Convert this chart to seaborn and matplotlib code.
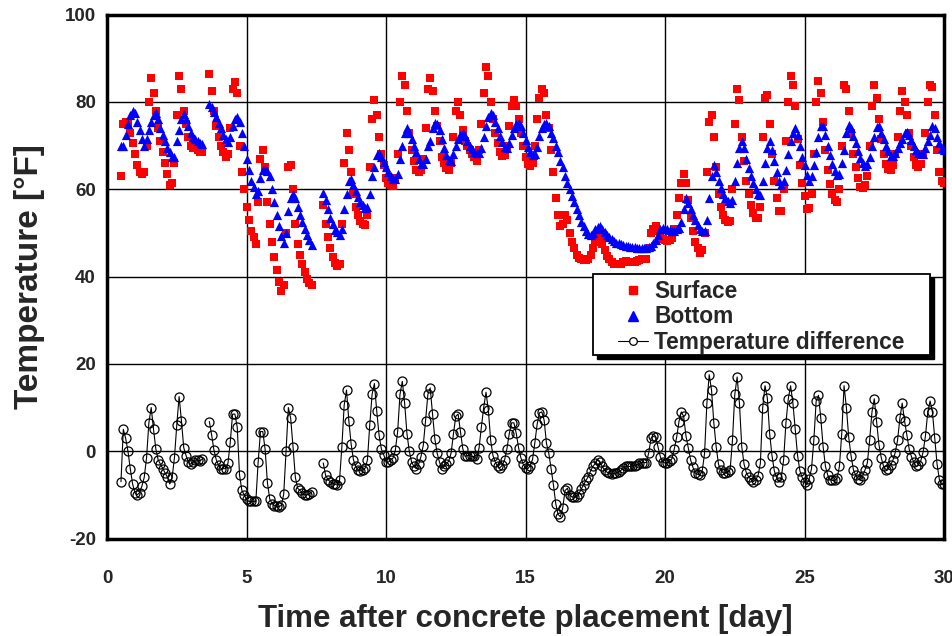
import numpy as np
import pandas as pd
import matplotlib
matplotlib.use("Agg")
import matplotlib.pyplot as plt
from matplotlib.lines import Line2D
from matplotlib.patches import Rectangle
import seaborn as sns

nan = np.nan

# sampling: every 2 hours from day 0
start_day = 0.0
step_day = 1.0 / 12.0

# Surface temperature [°F], one row per day (00h, 02h, ... 22h)
surface = [
    nan, nan, nan, nan, nan, nan, 63, 75, 75.5, 75, 73, 70.5,          # day 0
    68, 65.5, 64, 63.5, 64, 70, 80, 85.5, 82, 78, 74, 71,               # day 1
    68.5, 66, 63.5, 61, 61.5, 66, 77, 86, 83, 78, 75, 72,               # day 2
    70, 69.5, 69.5, 69, 68.5, 68.5, nan, nan, 86.3, 82.5, 78, 74.5,     # day 3
    72, 70, 68.5, 67.5, 68, 74, 83, 84.5, 82, 70, 64, 60,               # day 4
    56, 53, 50.5, 49, 47.5, 57, 67, 69, 65, 57, 52, 48,                 # day 5
    44.5, 41.5, 38.8, 36.8, 38, 50, 65, 65.5, 60, 52, 47.5, 45,         # day 6
    43, 41, 39.5, 38.5, 38, nan, nan, nan, nan, 56.4, 52, 49,           # day 7
    46.5, 44.5, 43.2, 42.5, 42.8, 52, 66, 73, 69, 64, 59, 56,           # day 8
    54, 52.7, 52, 51.8, 54, 65, 76, 80.5, 77, 72, 68, 65.5,             # day 9
    62.5, 61.5, 61, 60.8, 62.5, 68, 80, 86, 84, 78, 73, 69,             # day 10
    66.5, 64.5, 64, 64.5, 67, 74, 83, 85.5, 82.5, 78, 74.5, 71,         # day 11
    67.5, 66, 64.8, 64.5, 66, 72, 78, 80, 77, 73.5, 71, 70,             # day 12
    69, 68, 67.4, 66.5, 69, 75, 82, 88, 86, 80, 76, 73,                 # day 13
    70.5, 68.5, 67.6, 67.8, 70, 74.5, 79, 80.5, 79, 76, 73, 70,         # day 14
    67.5, 65.8, 65.3, 66, 70, 76, 81, 83, 82, 77, 74, 69,               # day 15
    64, 58, 54, 51.5, 52, 54, 53, 50, 48, 46.5, 45, 44.3,               # day 16
    44, 43.8, 43.8, 44, 45, 46.5, 48, 49.3, 49, 47.5, 46, 44.8,         # day 17
    44, 43.3, 43, 42.8, 42.8, 43, 43.3, 43.5, 43.4, 43.3, 43.3, 43.4,   # day 18
    43.5, 43.8, 44, 44, 44, 46.5, 50, 51, 51.5, 50.5, 49.5, 48.7,       # day 19
    48.3, 48.2, 48.3, 48.8, 51, 54, 58, 61.5, 63.5, 61.5, 57.5, 53.5,   # day 20
    50.5, 48, 46.5, 45.5, 46, 50, 64, 75.5, 77, 72, 65, 59,             # day 21
    56, 54, 53, 52.5, 52.7, 60, 75, 83, 80.5, 72, 66.5, 62,             # day 22
    59, 56.5, 54.5, 53.5, 53.4, 56, 72, 81, 81.7, 75, 68, 62,           # day 23
    58, 55, 55, 60, 71, 80, 86, 84, 79, 71.5, 65.5, 61.5,               # day 24
    58.5, 55.5, 55.7, 59, 68, 80, 84.8, 82, 75.5, 69, 64.5, 61.3,       # day 25
    59, 57.5, 57, 60, 70, 84, 83, 78, 73, 68, 65, 62.5,                 # day 26
    60.5, 60.3, 61, 63, 70, 79, 84, 81, 76, 71.5, 68, 65.8,             # day 27
    64.7, 64.5, 65.5, 68, 72, 78, 82.5, 80, 77, 73, 70, 67.5,           # day 28
    65.5, 65.2, 65.8, 68, 73, 80, 84, 83.5, 77, 69, 64, 62,             # day 29
    61.4,                                                               # day 30
]

# Bottom temperature [°F]
bottom = [
    nan, nan, nan, nan, nan, nan, 70, 70, 72.5, 75, 77, 78,                   # day 0
    77.5, 75.5, 73.5, 71.5, 70, 71.5, 73.5, 75.5, 77, 77.5, 76, 74,           # day 1
    72.5, 71, 69.5, 68.5, 67.5, 67.5, 71, 73.5, 76, 77.2, 76, 74.5,           # day 2
    73, 72, 71.5, 71, 70.7, 70.3, nan, nan, 79.5, 78.8, 77.8, 76.5,           # day 3
    75.2, 74, 72.5, 71.5, 70.8, 72, 74.5, 76, 76.5, 75.5, 73, 70,             # day 4
    67, 64.5, 62, 60.5, 59, 59.5, 62.5, 64.5, 64.6, 64.3, 63, 60,             # day 5
    57, 54, 51.5, 49.2, 47.8, 50, 55, 58, 59, 58, 56, 54,                     # day 6
    52.5, 51, 49.5, 48.3, 47.3, nan, nan, nan, nan, 59.1, 57.5, 55.5,         # day 7
    53.5, 52, 50.7, 50.3, 49.5, 51, 55.5, 59, 62, 62.4, 61, 59.5,             # day 8
    58.3, 57.2, 56.3, 55.7, 56, 59, 63, 65, 67.8, 68.3, 67.5, 66.3,           # day 9
    65, 64, 63, 62.4, 62.3, 63.5, 67, 70, 73, 74, 73, 71.5,                   # day 10
    70, 68.5, 67, 65.8, 65.7, 67, 70, 71, 74, 75.2, 75, 73.5,                 # day 11
    71.5, 69.5, 67.8, 66.7, 66.4, 68, 70, 71.5, 72.5, 72.9, 72.2, 71,         # day 12
    70, 69.2, 68.6, 68.3, 68.3, 69.5, 72, 74.5, 76.5, 77.5, 77, 75.5,         # day 13
    74, 72.3, 70.8, 69.8, 69.4, 70.5, 72.5, 74, 74.9, 75.2, 74.5, 73,         # day 14
    71.3, 69.8, 68.6, 67.9, 68.1, 69.8, 72.2, 74, 74.9, 75.2, 74.5, 73,       # day 15
    71.7, 70, 68.5, 66.5, 65, 63, 61.5, 60, 58.5, 57, 55.5, 54,               # day 16
    52.6, 51.5, 50.5, 49.8, 49.5, 50, 50.8, 51.3, 51.5, 51, 50.3, 49.6,       # day 17
    49, 48.5, 48.1, 47.8, 47.6, 47.4, 47.2, 47, 46.9, 46.8, 46.7, 46.7,       # day 18
    46.6, 46.6, 46.6, 46.6, 46.6, 46.8, 47, 47.6, 48.3, 49.5, 50.8, 51.2,     # day 19
    51, 50.8, 50.6, 50.5, 50.4, 50.8, 51.2, 52.5, 55.5, 58, 56.8, 55.5,       # day 20
    54.2, 53, 51.8, 51, 50.5, 50.5, 53, 58, 63, 65.6, 64, 62,                 # day 21
    60.3, 59, 58, 57.3, 56.9, 57.5, 62, 66, 69.5, 71, 69.5, 67,               # day 22
    64.9, 63, 61.5, 60, 59, 58.8, 62, 66, 69.5, 71, 69, 66.5,                 # day 23
    64, 62, 61, 62, 64.5, 68, 71, 73, 74, 72.5, 70, 67.5,                     # day 24
    65.5, 63.2, 62, 63, 65.5, 68.5, 72, 74.5, 74.5, 72.5, 70, 67.8,           # day 25
    65.7, 64.2, 63.2, 63.5, 66, 69, 73, 74.8, 74, 72.2, 70.5, 68.8,           # day 26
    67.2, 66, 65.3, 65.7, 67.5, 70, 72, 74.3, 74.5, 73, 71.5, 70,             # day 27
    68.7, 67.7, 67.6, 68.3, 69.5, 70.5, 71.5, 73, 73.2, 72.5, 71.3, 70,       # day 28
    69, 68.3, 68, 68.2, 69.5, 71, 72.5, 74.5, 74, 72, 70.5, 69.5,             # day 29
    69,                                                                       # day 30
]

x_ticks = [0, 5, 10, 15, 20, 25, 30]
y_ticks = [-20, 0, 20, 40, 60, 80, 100]
legend_labels = ["Surface", "Bottom", "Temperature difference"]

sns.set_style("white")
plt.rcParams['font.family'] = ['Liberation Sans', 'DejaVu Sans']
plt.rcParams['font.weight'] = 'bold'
plt.rcParams['axes.unicode_minus'] = False

day = start_day + step_day * np.arange(len(surface))
df = pd.DataFrame({"day": day, "surface": surface, "bottom": bottom})
df["difference"] = df["surface"] - df["bottom"]
df["segment"] = df["surface"].isna().cumsum()
d = df.dropna()

fig = plt.figure(figsize=(9.53, 6.36), dpi=100)
ax = fig.add_axes([0.1123, 0.1533, 0.8783, 0.8236])

sns.scatterplot(data=d, x="day", y="surface", marker="s", color="#ff0000",
                s=36, linewidth=0, ax=ax, zorder=3)
sns.scatterplot(data=d, x="day", y="bottom", marker="^", color="#0000ff",
                s=44, linewidth=0, ax=ax, zorder=3)
sns.lineplot(data=d, x="day", y="difference", units="segment", estimator=None,
             sort=False, color="black", lw=0.8, marker="o", markersize=6.5,
             markerfacecolor="none", markeredgecolor="black",
             markeredgewidth=0.9, ax=ax, zorder=3, legend=False)

ax.set_xlim(0, 30)
ax.set_ylim(-20, 100)
ax.set_xticks(x_ticks)
ax.set_yticks(y_ticks)
ax.grid(True, color="black", lw=1.0)
ax.set_axisbelow(True)
for sp in ax.spines.values():
    sp.set_visible(True)
    sp.set_color("black")
    sp.set_linewidth(2.5)
ax.tick_params(axis="x", length=0, pad=23, labelsize=13.5)
ax.tick_params(axis="y", length=0, pad=8, labelsize=13.5)
for lab in ax.get_xticklabels() + ax.get_yticklabels():
    lab.set_fontweight("bold")
ax.set_xlabel("Time after concrete placement [day]", fontsize=22.5, fontweight="bold", labelpad=12)
ax.set_ylabel("Temperature [°F]", fontsize=24, fontweight="bold", labelpad=14)

# legend frame with shadow
x0, x1, y0, y1 = 0.5806, 0.9833, 0.350, 0.505
ax.add_patch(Rectangle((x0 + 0.0048, y0 - 0.0076), x1 - x0, y1 - y0, transform=ax.transAxes,
                       facecolor="black", edgecolor="black", zorder=4))
ax.add_patch(Rectangle((x0, y0), x1 - x0, y1 - y0, transform=ax.transAxes,
                       facecolor="white", edgecolor="black", lw=1.3, zorder=4.1))
handles = [
    Line2D([], [], ls="none", marker="s", color="#ff0000", markersize=6),
    Line2D([], [], ls="none", marker="^", color="#0000ff", markersize=6.5),
    Line2D([], [], color="black", lw=0.8, marker="o", markersize=5.5,
           markerfacecolor="white", markeredgecolor="black", markeredgewidth=0.9),
]
leg = ax.legend(handles, legend_labels, loc="upper left", bbox_to_anchor=(0.6105, 0.494),
                frameon=False, fontsize=16.4, borderpad=0, labelspacing=0.12,
                handlelength=1.3, handletextpad=0.3, borderaxespad=0)
leg.set_zorder(5)
for t in leg.get_texts():
    t.set_fontweight("bold")

fig.savefig("out.png", dpi=100)
